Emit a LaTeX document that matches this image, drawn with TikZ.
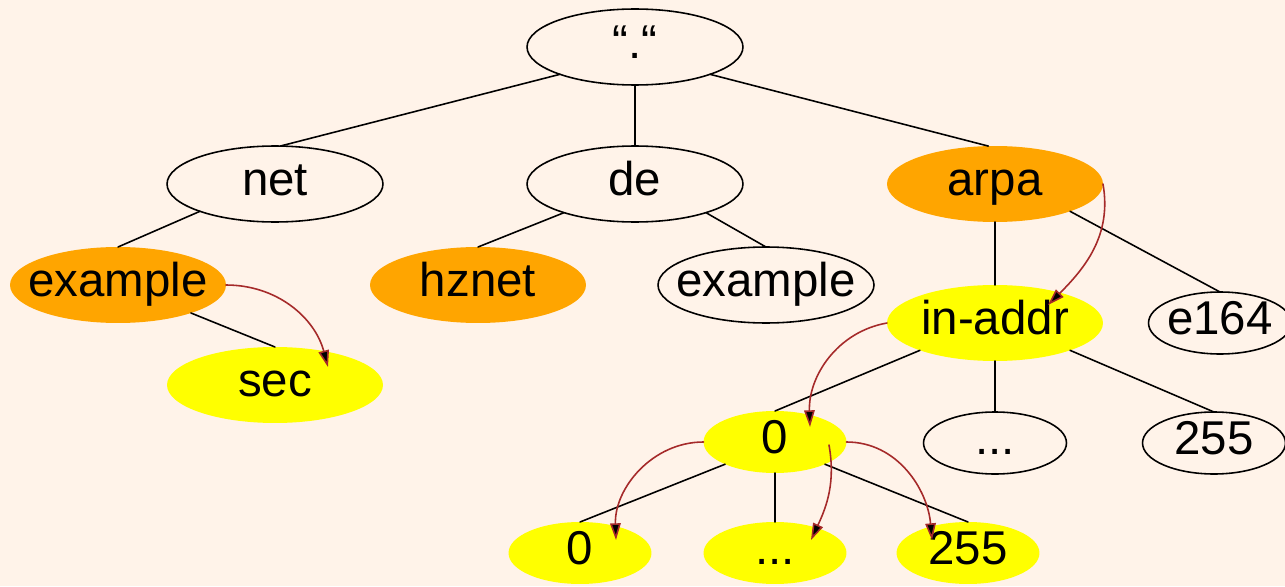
\documentclass[tikz,border=0pt]{standalone}
\usepackage{fontspec}
\setmainfont{Liberation Sans}
\usepackage{tikz}
\usetikzlibrary{positioning,calc,shapes.geometric,arrows.meta}

\begin{document}
\begin{tikzpicture}[
		x=0.02cm,y=0.02cm,
		line cap=round,line join=round,
		font=\fontsize{27}{30}\selectfont
		]
		% ---- colors
		\definecolor{bgPeach}{RGB}{255,243,233}
		\definecolor{zoneOrange}{RGB}{255,165,0}
		\definecolor{zoneYellow}{RGB}{255,255,0}
		\definecolor{signBrown}{RGB}{165,42,42}
		
		% ---- canvas
		\fill[bgPeach] (0,0) rectangle (1285,586);
		\useasboundingbox (0,0) rectangle (1285,586);
		
		% ---- styles (fixed size ellipses, common baseline)
		\tikzset{
			zone/.style={ellipse, inner xsep=-30pt, inner ysep=-8pt, outer sep=0pt,
				text height=19pt, text depth=6.4pt},
			bigell/.style={zone, minimum width=4.32cm, minimum height=1.52cm},
			smallell/.style={zone, minimum width=2.86cm, minimum height=1.24cm},
			plain/.style={draw=black, fill=bgPeach, line width=0.9pt},
			unsigned/.style={fill=zoneOrange},
			signed/.style={fill=zoneYellow},
			treeedge/.style={black, line width=0.9pt},
			chainedge/.style={signBrown, line width=0.9pt, -{Triangle[length=9.5pt,width=6pt,fill=black]}}
		}
		
		% ---- level 0 / 1
		\node[bigell,plain] (root) at (635,539) {“.“};
		\node[bigell,plain] (net) at (275,402) {net};
		\node[bigell,plain] (de) at (635,402) {de};
		\node[bigell,unsigned] (arpa) at (995,402) {arpa};
		
		% ---- level 2
		\node[bigell,unsigned] (exO) at (118,301) {example};
		\node[bigell,unsigned] (hznet) at (478,301) {hznet};
		\node[bigell,plain] (exW) at (766,301) {example};
		\node[bigell,signed] (inaddr) at (995,263) {in-addr};
		\node[smallell,plain] (e164) at (1220,263) {e164};
		\node[bigell,signed] (sec) at (275,201) {sec};
		
		% ---- reverse tree
		\node[smallell,signed] (zeroM) at (775,144) {0};
		\node[smallell,plain] (dotsW) at (995,143) {...};
		\node[smallell,plain] (w255) at (1214,143) {255};
		
		\node[smallell,signed] (zeroB) at (580,33) {0};
		\node[smallell,signed] (dotsB) at (775,33) {...};
		\node[smallell,signed] (y255) at (968,33) {255};
		
		% ---- tree edges
		\draw[treeedge] (root.200) -- (net.82);
		\draw[treeedge] (root.south) -- (de.north);
		\draw[treeedge] (root.340) -- (arpa.100);
		
		\draw[treeedge] (net.200) -- (exO.north);
		\draw[treeedge] (de.202) -- (hznet.north);
		\draw[treeedge] (de.338) -- (exW.north);
		\draw[treeedge] (exO.339) -- (sec.north);
		
		\draw[treeedge] (arpa.south) -- (inaddr.north);
		\draw[treeedge] (arpa.340) -- (e164.north);
		
		\draw[treeedge] (inaddr.200) -- (zeroM.north);
		\draw[treeedge] (inaddr.south) -- (dotsW.north);
		\draw[treeedge] (inaddr.340) -- (w255.north);
		
		\draw[treeedge] (zeroM.204) -- (zeroB.north);
		\draw[treeedge] (zeroM.south) -- (dotsB.north);
		\draw[treeedge] (zeroM.336) -- (y255.north);
		
		% ---- chain of trust (brown)
		\draw[chainedge] (exO.east) to[out=0,in=105] ($(sec.center)+(53,18)$);
		\draw[chainedge] (arpa.east) to[out=-80,in=45] ($(inaddr.center)+(53,18)$);
		\draw[chainedge] (inaddr.west) to[out=190,in=92] ($(zeroM.center)+(35,15)$);
		\draw[chainedge] (zeroM.west) to[out=180,in=92] ($(zeroB.center)+(36,13)$);
		\draw[chainedge] ($(zeroM.center)+(54,-3)$) to[out=-80,in=65] ($(dotsB.center)+(36,13)$);
		\draw[chainedge] (zeroM.east) to[out=0,in=95] ($(y255.center)+(-36,13)$);
		
	\end{tikzpicture}
\end{document}
